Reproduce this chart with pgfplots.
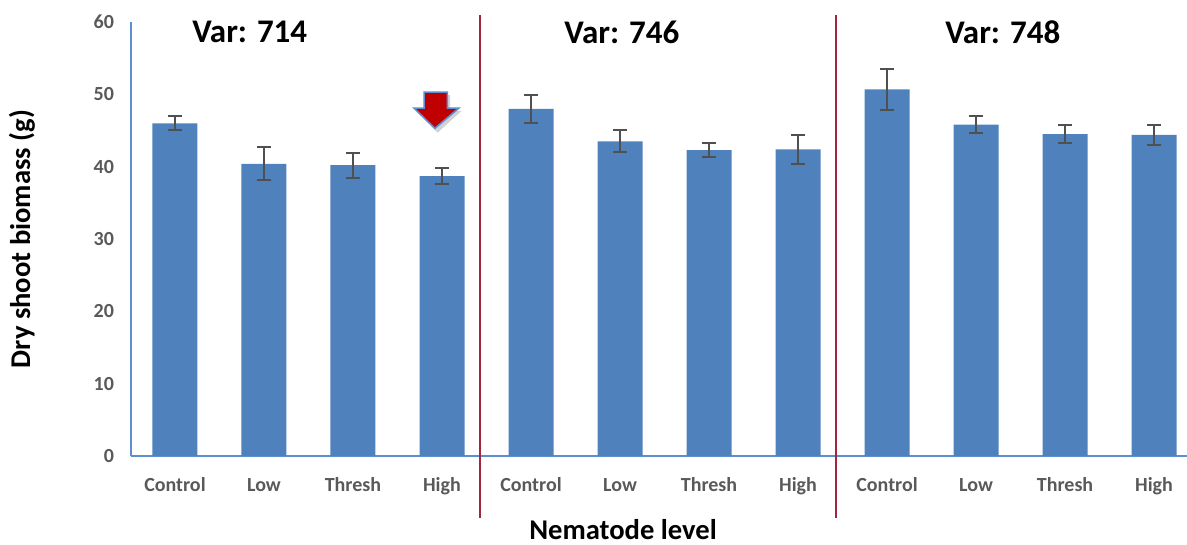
\documentclass[border=0pt]{standalone}
\usepackage{pgfplots}
\pgfplotsset{compat=1.18}
\usepackage{fontspec}
\setmainfont{Carlito}
\definecolor{barblue}{HTML}{4F81BD}
\definecolor{axisblue}{HTML}{5B8FCF}
\definecolor{errgray}{HTML}{505050}
\definecolor{ticklab}{HTML}{595959}
\definecolor{sepred}{HTML}{A3263F}
\definecolor{arrowred}{HTML}{C00000}

\begin{document}
\begin{tikzpicture}
\path[use as bounding box] (-65.5pt,-44.5pt) rectangle (528pt,228pt);
\begin{axis}[
  scale only axis, width=528pt, height=217pt,
  xmin=-0.494, xmax=11.37, ymin=0, ymax=60,
  ytick={0,10,...,60},
  xtick={0,...,11},
  xticklabels={Control,Low,Thresh,High,Control,Low,Thresh,High,Control,Low,Thresh,High},
  axis x line*=bottom, axis y line*=left,
  axis line style={axisblue, line width=1pt, -},
  major tick length=0pt,
  tick label style={font=\fontsize{10}{12}\selectfont\bfseries, text=ticklab},
  /pgf/number format/assume math mode=true,
  xticklabel style={yshift=-7pt, text height=7pt, text depth=2pt},
  yticklabel style={xshift=-5pt},
  xlabel={Nematode level}, ylabel={Dry shoot biomass (g)},
  every axis x label/.style={at={(axis description cs:0.466,-0.1705)}, anchor=center,
    font=\fontsize{14.3}{17}\selectfont\bfseries},
  every axis y label/.style={at={(axis description cs:-0.1032,0.5)}, rotate=90, anchor=center,
    font=\fontsize{14.3}{17}\selectfont\bfseries},
  clip=false,
]
\addplot[ybar, bar width=22.5pt, fill=barblue, draw=none,
  error bars/.cd, y dir=both, y explicit,
  error bar style={errgray, line width=1pt},
  error mark options={errgray, line width=1pt, mark size=3.5pt, rotate=90}]
  table[x=x, y=y, y error=e] {
  x  y    e
  0  46.0 1.0
  1  40.4 2.3
  2  40.2 1.7
  3  38.7 1.1
  4  48.0 1.9
  5  43.5 1.5
  6  42.3 1.0
  7  42.4 2.0
  8  50.7 2.8
  9  45.8 1.2
  10 44.5 1.2
  11 44.4 1.4
  };
\draw[sepred, line width=1pt] (axis cs:3.43,61) -- (axis cs:3.43,-8.6);
\draw[sepred, line width=1pt] (axis cs:7.43,61) -- (axis cs:7.43,-8.6);
\node[font=\fontsize{16.5}{20}\selectfont\bfseries] at (axis cs:0.84,58.6) {Var: 714};
\node[font=\fontsize{16.5}{20}\selectfont\bfseries] at (axis cs:5.02,58.6) {Var: 746};
\node[font=\fontsize{16.5}{20}\selectfont\bfseries] at (axis cs:9.30,58.6) {Var: 748};
\fill[black!35, opacity=0.5] (axis cs:2.83,49.9) -- (axis cs:3.09,49.9) -- (axis cs:3.09,47.7)
  -- (axis cs:3.22,47.7) -- (axis cs:2.95,44.7) -- (axis cs:2.715,47.7) -- (axis cs:2.83,47.7) -- cycle;
\filldraw[fill=arrowred, draw=axisblue, line width=0.8pt] (axis cs:2.80,50.3) -- (axis cs:3.06,50.3) -- (axis cs:3.06,48.1)
  -- (axis cs:3.19,48.1) -- (axis cs:2.92,45.3) -- (axis cs:2.685,48.1) -- (axis cs:2.80,48.1) -- cycle;
\end{axis}
\end{tikzpicture}
\end{document}
